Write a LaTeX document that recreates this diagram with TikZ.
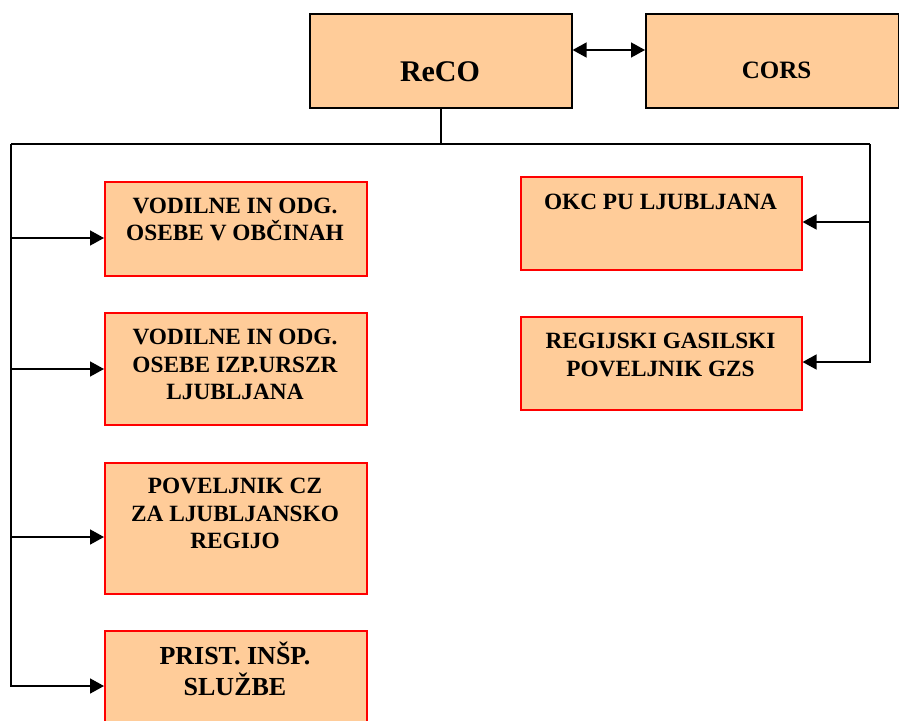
\documentclass[tikz,border=0pt]{standalone}
\usepackage{fontspec}
\setmainfont{Liberation Serif}
\usetikzlibrary{arrows.meta}
\definecolor{peach}{HTML}{FFCC99}
\begin{document}
\begin{tikzpicture}[x=1pt,y=-1pt,
  redbox/.style={draw=red, line width=1.6pt, fill=peach, inner sep=0pt, anchor=north west},
  blackbox/.style={draw=black, line width=1.6pt, fill=peach, inner sep=0pt, anchor=north west},
  lbl/.style={font=\bfseries\fontsize{23.3}{27.5}\selectfont, align=center, inner sep=0pt},
  conn/.style={line width=1.6pt},
  arr/.style={line width=1.6pt, -{Triangle[length=14pt,width=15pt]}},
  darr/.style={line width=1.6pt, {Triangle[length=14pt,width=15pt]}-{Triangle[length=14pt,width=15pt]}}]
\useasboundingbox (0,0) rectangle (899,720);

% top boxes
\node[blackbox, minimum width=262pt, minimum height=94pt] (reco) at (309,13) {};
\node[blackbox, minimum width=253pt, minimum height=94pt] (cors) at (645,13) {};
\node[lbl, font=\bfseries\fontsize{30}{34}\selectfont] (recot) at (440,71.5) {ReCO};
\node[lbl, font=\bfseries\fontsize{25}{30}\selectfont] (corst) at (776.5,70.5) {CORS};

% left boxes
\node[redbox, minimum width=262pt, minimum height=94pt] (b1) at (104,181) {};
\node[redbox, minimum width=262pt, minimum height=112pt] (b2) at (104,312) {};
\node[redbox, minimum width=262pt, minimum height=131pt] (b3) at (104,462) {};
\node[redbox, minimum width=262pt, minimum height=120pt] (b4) at (104,630) {};

\node[lbl] (b1t) at (235,219.5) {VODILNE IN ODG.\\OSEBE V OBČINAH};
\node[lbl] (b2t) at (235,364.5) {VODILNE IN ODG.\\OSEBE IZP.URSZR\\LJUBLJANA};
\node[lbl] (b3t) at (235,513.5) {POVELJNIK CZ\\ZA LJUBLJANSKO\\REGIJO};
\node[lbl, font=\bfseries\fontsize{26}{31}\selectfont] (b4t) at (235,669) {PRIST. INŠP.\\SLUŽBE};

% right boxes
\node[redbox, minimum width=281pt, minimum height=93pt] (okc) at (520,176) {};
\node[redbox, minimum width=281pt, minimum height=93pt] (reg) at (520,316) {};
\node[lbl] (okct) at (660.5,201.5) {OKC PU LJUBLJANA};
\node[lbl] (regt) at (660.5,355) {REGIJSKI GASILSKI\\POVELJNIK GZS};

% connector coordinates
\coordinate (hl) at (11,144);
\coordinate (hr) at (870,144);
\coordinate (t1) at (b1.west |- 0,238);
\coordinate (t2) at (b2.west |- 0,369);
\coordinate (t3) at (b3.west |- 0,537);
\coordinate (t4) at (b4.west |- 0,686);
\coordinate (t5) at (okc.east |- 0,222);
\coordinate (t6) at (reg.east |- 0,362);

% connectors
\draw[darr] (reco.east |- 0,50) -- (cors.west |- 0,50);
\draw[conn] (reco.south) -- (reco.south |- hl);
\draw[conn] (hl) -- (hr);
\draw[arr] (hl) |- (t4);
\draw[arr] (hl |- t1) -- (t1);
\draw[arr] (hl |- t2) -- (t2);
\draw[arr] (hl |- t3) -- (t3);
\draw[arr] (hr) |- (t6);
\draw[arr] (hr |- t5) -- (t5);
\end{tikzpicture}
\end{document}
